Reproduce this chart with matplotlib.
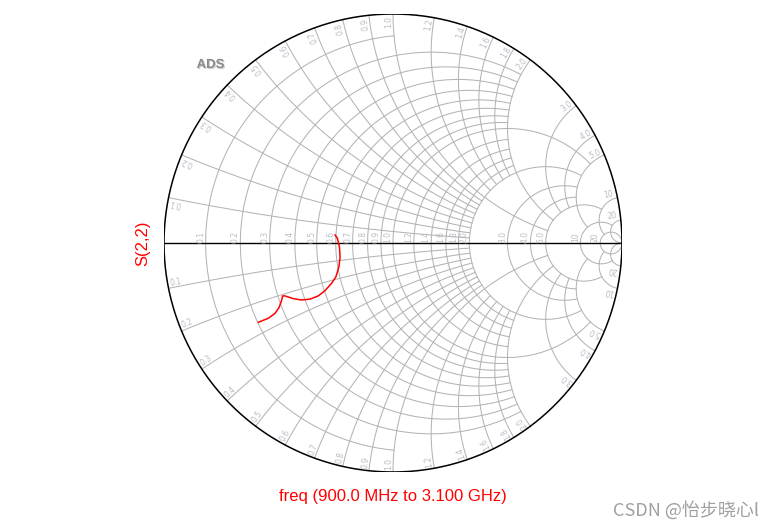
import numpy as np
import matplotlib.pyplot as plt
import matplotlib.patheffects as pe

# grid values of the ADS smith chart, with the limit each line is drawn to
grid_vals = [0.1, 0.2, 0.3, 0.4, 0.5, 0.6, 0.7, 0.8, 0.9, 1.0,
             1.2, 1.4, 1.6, 1.8, 2.0, 3.0, 4.0, 5.0, 10, 20]
r_limits = [1, 2, 2, 2, 2, 2, 2, 2, 2, 5,
            2, 2, 2, 2, 5, 5, 5, 10, 20, np.inf]
x_limits = [2, 2, 2, 2, 2, 2, 2, 2, 2, 5,
            2, 2, 2, 2, 5, 5, 5, 10, 20, np.inf]
grid_labels = ["0.1", "0.2", "0.3", "0.4", "0.5", "0.6", "0.7", "0.8", "0.9", "1.0",
               "1.2", "1.4", "1.6", "1.8", "2.0", "3.0", "4.0", "5.0", "10", "20"]

# S(2,2) trace, reflection coefficient
s22_re = [-0.253, -0.243, -0.234, -0.231, -0.236, -0.249, -0.268, -0.297, -0.326, -0.362,
          -0.399, -0.435, -0.472, -0.482, -0.486, -0.497, -0.515, -0.545, -0.588]
s22_im = [0.035, 0.021, -0.016, -0.060, -0.103, -0.147, -0.176, -0.208, -0.231, -0.245,
          -0.249, -0.243, -0.231, -0.231, -0.249, -0.281, -0.307, -0.329, -0.346]

GRID = '#b4b4b4'
LABEL = '#b8bcc6'


def gamma(z):
    return (z - 1) / (z + 1)


def spread(lim, n=500):
    # sample 0..lim, dense near 0, works for inf too
    return np.tan(np.linspace(0, np.arctan(lim), n))


fig = plt.figure(figsize=(7.76, 5.28), dpi=100)
ax = fig.add_axes([164 / 776, 56 / 528, 458 / 776, 458 / 528])
ax.set_xlim(-1, 1)
ax.set_ylim(-1, 1)
ax.axis('off')

for v, xm, rm in zip(grid_vals, r_limits, x_limits):
    # resistance circle r = v, for |x| <= xm
    xs = spread(xm)
    xs = np.concatenate([-xs[::-1], xs[1:]])
    g = gamma(v + 1j * xs)
    ax.plot(g.real, g.imag, color=GRID, lw=0.75, zorder=1)
    # reactance arcs x = +-v, for r <= rm
    rs = spread(rm)
    for s in (1, -1):
        g = gamma(rs + 1j * s * v)
        ax.plot(g.real, g.imag, color=GRID, lw=0.75, zorder=1)

# real axis and outer circle
ax.plot([-1, 1], [0, 0], color='black', lw=1.0, zorder=2)
t = np.linspace(0, 2 * np.pi, 720)
ax.plot(np.cos(t), np.sin(t), color='black', lw=1.1, zorder=2)

# resistance labels along the real axis
px = 1 / 229
for v, lab in zip(grid_vals, grid_labels):
    g0 = gamma(v)
    ax.text(g0 - 5 * px, 6 * px, lab, rotation=90, fontsize=5.5, color=LABEL,
            ha='center', va='center', family='DejaVu Sans')

# reactance labels around the rim
for v, lab in zip(grid_vals, grid_labels):
    gb = gamma(1j * v)
    th = np.angle(gb)
    rad = 1 - 8 * px
    dth = 4.5 * px / rad
    for s in (1, -1):
        a = s * (th + dth)
        rot = np.degrees(th) if s == 1 else 180 - np.degrees(th)
        ax.text(rad * np.cos(a), rad * np.sin(a), lab, rotation=rot,
                rotation_mode='anchor', fontsize=5.5, color=LABEL,
                ha='center', va='center', family='DejaVu Sans')

ax.plot(s22_re, s22_im, color='red', lw=1.1, zorder=3)

fig.text(143 / 776, 1 - 243 / 528, 'S(2,2)', rotation=90, color='red', fontsize=12,
         ha='center', va='center', family='Liberation Sans')
fig.text(393 / 776, 1 - 497 / 528, 'freq (900.0 MHz to 3.100 GHz)', color='red',
         fontsize=12, ha='center', va='center', family='Liberation Sans')
fig.text(210.5 / 776, 1 - 65 / 528, 'ADS', color='#8a8a8a', fontsize=9.5, fontweight='bold',
         ha='center', va='center', family='Liberation Sans',
         path_effects=[pe.withSimplePatchShadow(offset=(0.8, -0.8), shadow_rgbFace='#d0d0d0', alpha=1)])
fig.text(686 / 776, 1 - 510 / 528, 'CSDN @怡步晓心l', color='#a0a0a0', fontsize=13,
         ha='center', va='center', family=['Noto Sans CJK SC', 'DejaVu Sans'])

fig.savefig('out.png', dpi=100)
